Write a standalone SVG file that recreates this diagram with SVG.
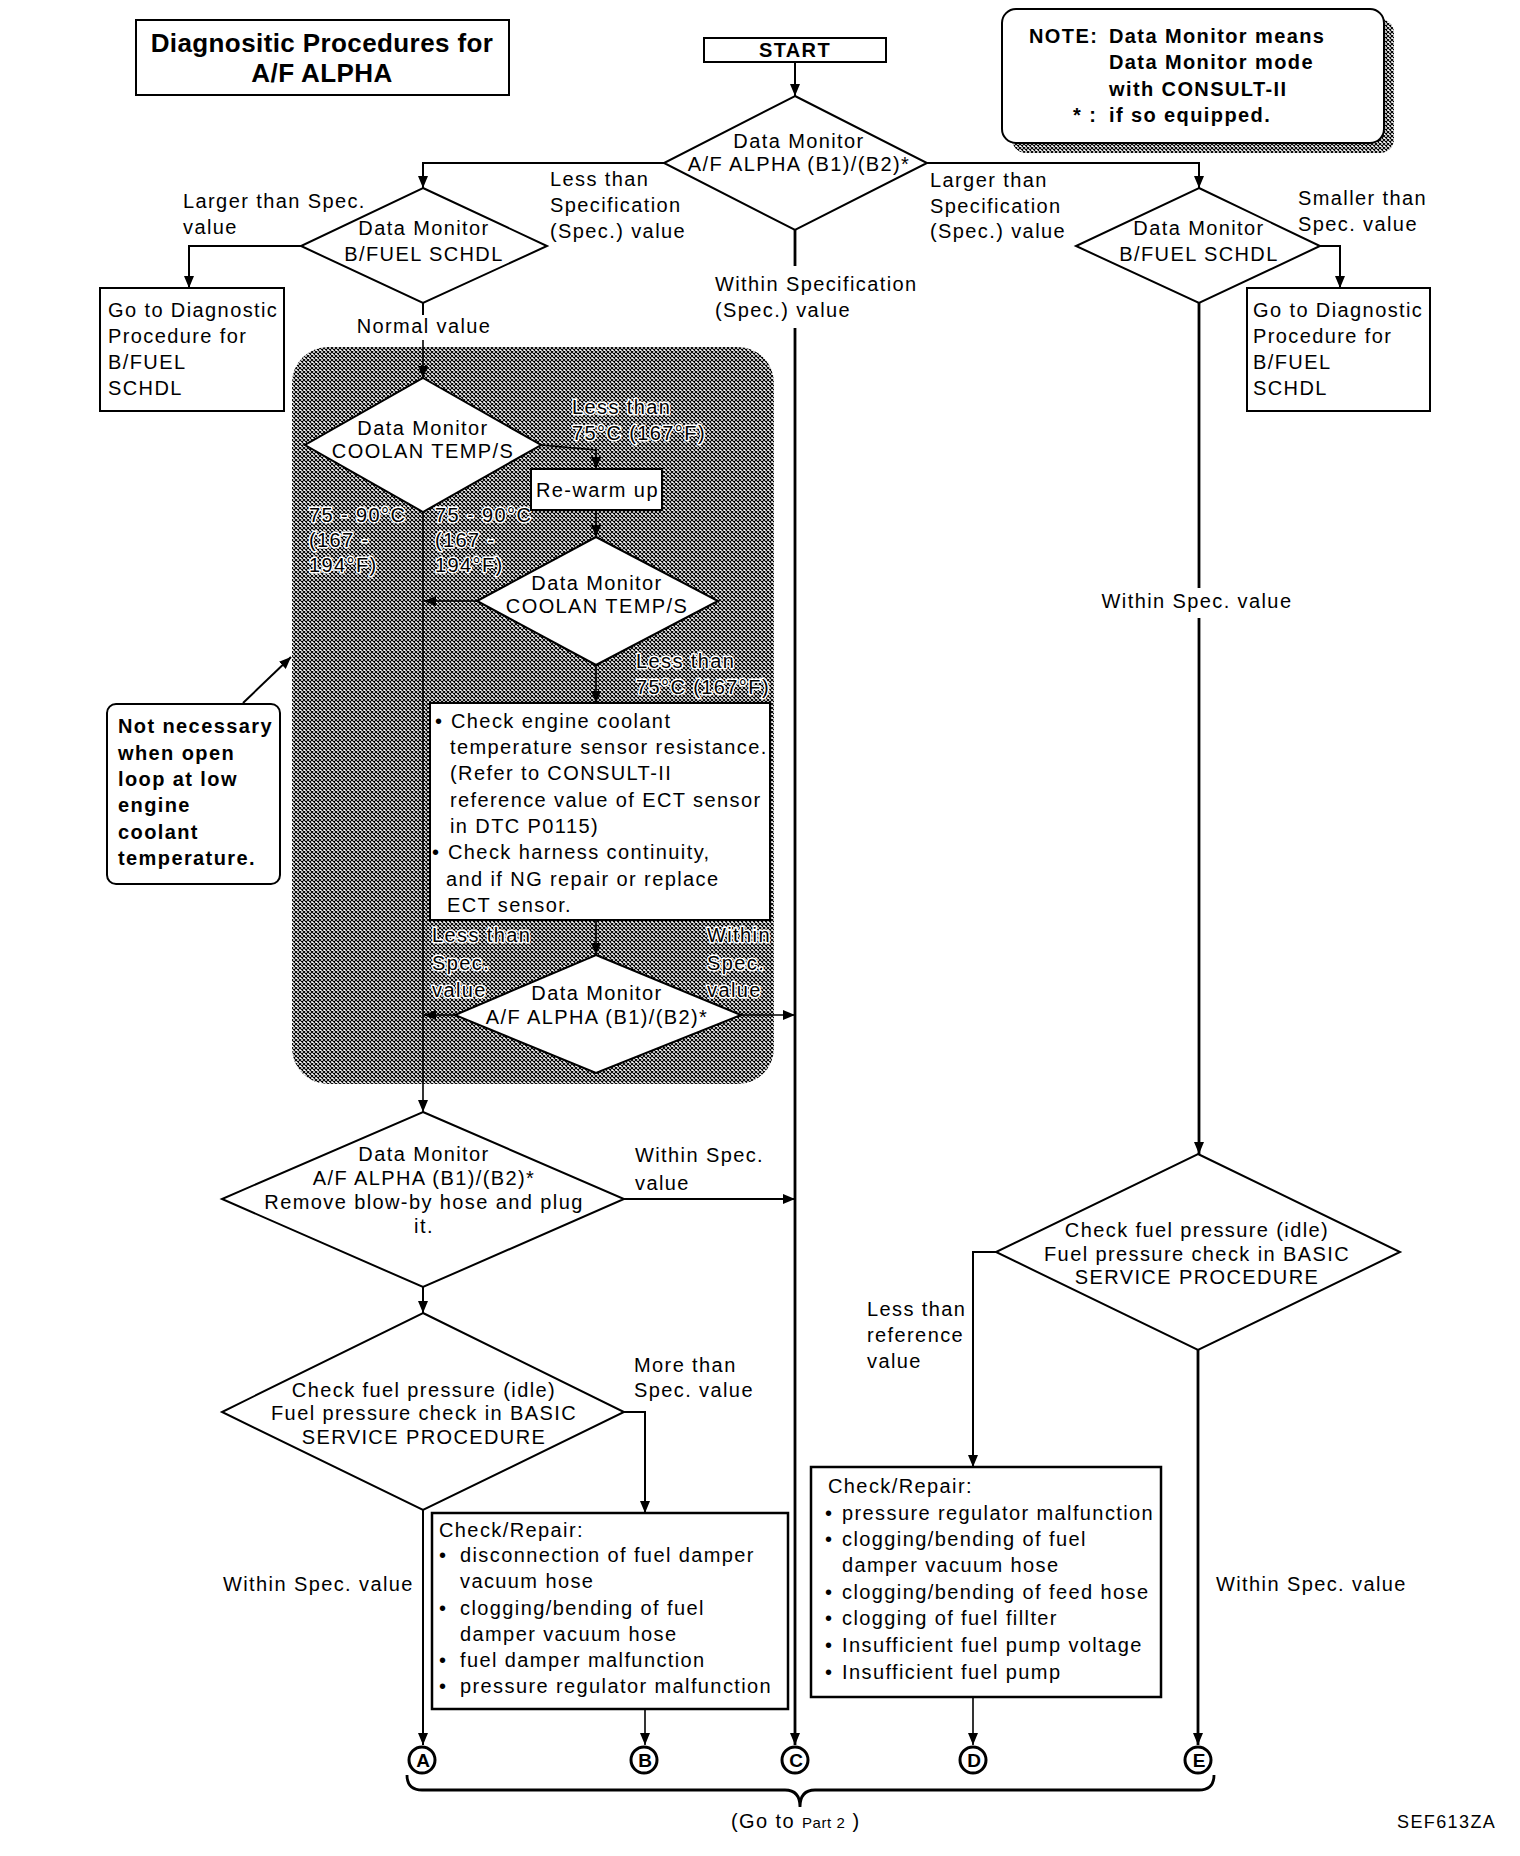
<svg xmlns="http://www.w3.org/2000/svg" width="1520" height="1856" viewBox="0 0 1520 1856">
<defs>
<style>
.t{font-family:"Liberation Sans",Arial,Helvetica,sans-serif;font-size:20px;letter-spacing:1.4px;fill:#000}
.b{font-weight:bold}
.m{text-anchor:middle}
.h{stroke:#fff;stroke-width:3px;paint-order:stroke;stroke-linejoin:round}
.ln{fill:none;stroke:#000;stroke-width:2}
.thin{fill:none;stroke:#000;stroke-width:1.6}
.thick{fill:none;stroke:#000;stroke-width:2.8}
.box{fill:#fff;stroke:#000;stroke-width:2}
.dia{fill:#fff;stroke:#000;stroke-width:2}
.cir{fill:#fff;stroke:#000;stroke-width:3}
</style>
<pattern id="hatch" width="4" height="4" patternUnits="userSpaceOnUse">
<rect width="4" height="4" fill="#fff"/>
<path d="M0,0 L4,4 M4,0 L0,4" stroke="#000" stroke-width="1.1"/>
</pattern>
<marker id="ah" viewBox="0 0 12 10" refX="12" refY="5" markerWidth="12" markerHeight="10" markerUnits="userSpaceOnUse" orient="auto">
<path d="M0,0 L12,5 L0,10 Z" fill="#000"/>
</marker>
</defs>
<rect width="1520" height="1856" fill="#fff"/>

<g id="shaded-region">
<rect x="292" y="347" width="482" height="737" rx="36" fill="url(#hatch)"/>
</g>

<g id="connectors">
<path class="ln" d="M795,62 V96" marker-end="url(#ah)"/>
<path class="ln" d="M664,163 H423 V188" marker-end="url(#ah)"/>
<path class="ln" d="M927,163 H1199 V188" marker-end="url(#ah)"/>
<path class="thick" d="M795,230 V266"/>
<path class="thick" d="M795,328 V1745" marker-end="url(#ah)"/>
<path class="ln" d="M301,246 H189 V288" marker-end="url(#ah)"/>
<path class="ln" d="M423,303 V315"/>
<path class="thin" d="M423,340 V378" marker-end="url(#ah)"/>
<path class="ln" d="M1320,246 H1340 V288" marker-end="url(#ah)"/>
<path class="thick" d="M1199,303 V588"/>
<path class="thick" d="M1199,618 V1154" marker-end="url(#ah)"/>
<path class="thin" d="M541,445 L596,450 V469" marker-end="url(#ah)"/>
<path class="thin" d="M596,510 V537" marker-end="url(#ah)"/>
<path class="thin" d="M423,512 V1112" marker-end="url(#ah)"/>
<path class="thin" d="M477,601 H424" marker-end="url(#ah)"/>
<path class="thin" d="M596,665 V703" marker-end="url(#ah)"/>
<path class="thin" d="M596,920 V955" marker-end="url(#ah)"/>
<path class="thin" d="M455,1015 H424" marker-end="url(#ah)"/>
<path class="thin" d="M741,1015 H795" marker-end="url(#ah)"/>
<path class="ln" d="M624,1199 H795" marker-end="url(#ah)"/>
<path class="ln" d="M423,1287 V1313" marker-end="url(#ah)"/>
<path class="ln" d="M624,1412 H645 V1513" marker-end="url(#ah)"/>
<path class="ln" d="M423,1510 V1745" marker-end="url(#ah)"/>
<path class="thin" d="M645,1709 V1745" marker-end="url(#ah)"/>
<path class="ln" d="M996,1252 H973 V1467" marker-end="url(#ah)"/>
<path class="thin" d="M973,1697 V1745" marker-end="url(#ah)"/>
<path class="thick" d="M1198,1350 V1745" marker-end="url(#ah)"/>
<path class="ln" d="M243,703 L291,657" marker-end="url(#ah)"/>
<path class="thick" d="M407,1775 Q407,1790 422,1790 L785,1790 Q800,1790 800,1807 Q800,1790 815,1790 L1199,1790 Q1214,1790 1214,1775"/>
</g>

<g id="title">
<rect class="box" x="136" y="20" width="373" height="75"/>
<text class="t b m" x="322" y="52" style="font-size:26px;letter-spacing:0.4px">Diagnositic Procedures for</text>
<text class="t b m" x="322" y="82" style="font-size:26px;letter-spacing:0.4px">A/F ALPHA</text>
</g>

<g id="start">
<rect class="box" x="704" y="38" width="182" height="24"/>
<text class="t b m" x="795" y="57">START</text>
</g>

<g id="note">
<rect x="1012" y="19" width="382" height="134" rx="14" fill="url(#hatch)"/>
<rect class="box" x="1002" y="9" width="382" height="134" rx="14"/>
<text class="t b" x="1029" y="43">NOTE:</text>
<text class="t b" x="1109" y="43">Data Monitor means</text>
<text class="t b" x="1109" y="69">Data Monitor mode</text>
<text class="t b" x="1109" y="96">with CONSULT-II</text>
<text class="t b" x="1073" y="122">* :</text>
<text class="t b" x="1109" y="122">if so equipped.</text>
</g>

<g id="d-main">
<polygon class="dia" points="795,96 927,163 795,230 664,163"/>
<text class="t m" x="799" y="148">Data Monitor</text>
<text class="t m" x="799" y="171">A/F ALPHA (B1)/(B2)*</text>
</g>

<g id="d-left-bfuel">
<polygon class="dia" points="423,188 547,246 423,303 301,246"/>
<text class="t m" x="424" y="235">Data Monitor</text>
<text class="t m" x="424" y="261">B/FUEL SCHDL</text>
</g>

<g id="d-right-bfuel">
<polygon class="dia" points="1199,188 1320,246 1199,303 1076,246"/>
<text class="t m" x="1199" y="235">Data Monitor</text>
<text class="t m" x="1199" y="261">B/FUEL SCHDL</text>
</g>

<g id="box-left-goto">
<rect class="box" x="100" y="288" width="184" height="123"/>
<text class="t" x="108" y="317">Go to Diagnostic</text>
<text class="t" x="108" y="343">Procedure for</text>
<text class="t" x="108" y="369">B/FUEL</text>
<text class="t" x="108" y="395">SCHDL</text>
</g>

<g id="box-right-goto">
<rect class="box" x="1247" y="288" width="183" height="123"/>
<text class="t" x="1253" y="317">Go to Diagnostic</text>
<text class="t" x="1253" y="343">Procedure for</text>
<text class="t" x="1253" y="369">B/FUEL</text>
<text class="t" x="1253" y="395">SCHDL</text>
</g>

<g id="labels">
<text class="t" x="550" y="186">Less than</text>
<text class="t" x="550" y="212">Specification</text>
<text class="t" x="550" y="238">(Spec.) value</text>
<text class="t" x="183" y="208">Larger than Spec.</text>
<text class="t" x="183" y="234">value</text>
<text class="t" x="930" y="187">Larger than</text>
<text class="t" x="930" y="213">Specification</text>
<text class="t" x="930" y="238">(Spec.) value</text>
<text class="t" x="1298" y="205">Smaller than</text>
<text class="t" x="1298" y="231">Spec. value</text>
<text class="t" x="715" y="291">Within Specification</text>
<text class="t" x="715" y="317">(Spec.) value</text>
<text class="t m" x="424" y="333">Normal value</text>
<text class="t m" x="1197" y="608">Within Spec. value</text>
<text class="t h" x="572" y="414">Less than</text>
<text class="t h" x="572" y="440">75°C (167°F)</text>
<text class="t h" x="309" y="522">75 - 90°C</text>
<text class="t h" x="309" y="547">(167 -</text>
<text class="t h" x="309" y="572">194°F)</text>
<text class="t h" x="435" y="522">75 - 90°C</text>
<text class="t h" x="435" y="547">(167 -</text>
<text class="t h" x="435" y="572">194°F)</text>
<text class="t h" x="636" y="668">Less than</text>
<text class="t h" x="636" y="694">75°C (167°F)</text>
<text class="t h" x="432" y="942">Less than</text>
<text class="t h" x="432" y="970">Spec.</text>
<text class="t h" x="432" y="997">value</text>
<text class="t h" x="707" y="942">Within</text>
<text class="t h" x="707" y="970">Spec.</text>
<text class="t h" x="707" y="997">value</text>
<text class="t" x="635" y="1162">Within Spec.</text>
<text class="t" x="635" y="1190">value</text>
<text class="t" x="634" y="1372">More than</text>
<text class="t" x="634" y="1397">Spec. value</text>
<text class="t" x="867" y="1316">Less than</text>
<text class="t" x="867" y="1342">reference</text>
<text class="t" x="867" y="1368">value</text>
<text class="t" x="223" y="1591">Within Spec. value</text>
<text class="t" x="1216" y="1591">Within Spec. value</text>
</g>

<g id="d-coolant-1">
<polygon class="dia" points="423,378 541,445 423,512 305,445"/>
<text class="t m" x="423" y="435">Data Monitor</text>
<text class="t m" x="423" y="458">COOLAN TEMP/S</text>
</g>

<g id="box-rewarm">
<rect class="box" x="531" y="469" width="131" height="41"/>
<text class="t" x="536" y="497">Re-warm up</text>
</g>

<g id="d-coolant-2">
<polygon class="dia" points="596,537 718,601 596,665 477,601"/>
<text class="t m" x="597" y="590">Data Monitor</text>
<text class="t m" x="597" y="613">COOLAN TEMP/S</text>
</g>

<g id="box-ect">
<rect class="box" x="430" y="703" width="340" height="217"/>
<text class="t" x="435" y="728">•</text>
<text class="t" x="451" y="728">Check engine coolant</text>
<text class="t" x="450" y="754">temperature sensor resistance.</text>
<text class="t" x="450" y="780">(Refer to CONSULT-II</text>
<text class="t" x="450" y="807">reference value of ECT sensor</text>
<text class="t" x="450" y="833">in DTC P0115)</text>
<text class="t" x="432" y="859">•</text>
<text class="t" x="448" y="859">Check harness continuity,</text>
<text class="t" x="446" y="886">and if NG repair or replace</text>
<text class="t" x="447" y="912">ECT sensor.</text>
</g>

<g id="d-alpha-inner">
<polygon class="dia" points="596,955 741,1015 596,1073 455,1015"/>
<text class="t m" x="597" y="1000">Data Monitor</text>
<text class="t m" x="597" y="1024">A/F ALPHA (B1)/(B2)*</text>
</g>

<g id="note-open-loop">
<rect class="box" x="107" y="704" width="173" height="180" rx="9"/>
<text class="t b" x="118" y="733">Not necessary</text>
<text class="t b" x="118" y="760">when open</text>
<text class="t b" x="118" y="786">loop at low</text>
<text class="t b" x="118" y="812">engine</text>
<text class="t b" x="118" y="839">coolant</text>
<text class="t b" x="118" y="865">temperature.</text>
</g>

<g id="d-alpha-blowby">
<polygon class="dia" points="423,1112 624,1199 423,1287 222,1199"/>
<text class="t m" x="424" y="1161">Data Monitor</text>
<text class="t m" x="424" y="1185">A/F ALPHA (B1)/(B2)*</text>
<text class="t m" x="424" y="1209">Remove blow-by hose and plug</text>
<text class="t m" x="424" y="1233">it.</text>
</g>

<g id="d-fuel-left">
<polygon class="dia" points="423,1313 624,1412 423,1510 222,1412"/>
<text class="t m" x="424" y="1397">Check fuel pressure (idle)</text>
<text class="t m" x="424" y="1420">Fuel pressure check in BASIC</text>
<text class="t m" x="424" y="1444">SERVICE PROCEDURE</text>
</g>

<g id="d-fuel-right">
<polygon class="dia" points="1198,1154 1400,1252 1198,1350 996,1252"/>
<text class="t m" x="1197" y="1237">Check fuel pressure (idle)</text>
<text class="t m" x="1197" y="1261">Fuel pressure check in BASIC</text>
<text class="t m" x="1197" y="1284">SERVICE PROCEDURE</text>
</g>

<g id="box-repair-b">
<rect class="box" x="432" y="1513" width="356" height="196" style="stroke-width:2.5"/>
<text class="t" x="439" y="1537">Check/Repair:</text>
<text class="t" x="439" y="1562">•</text>
<text class="t" x="460" y="1562">disconnection of fuel damper</text>
<text class="t" x="460" y="1588">vacuum hose</text>
<text class="t" x="439" y="1615">•</text>
<text class="t" x="460" y="1615">clogging/bending of fuel</text>
<text class="t" x="460" y="1641">damper vacuum hose</text>
<text class="t" x="439" y="1667">•</text>
<text class="t" x="460" y="1667">fuel damper malfunction</text>
<text class="t" x="439" y="1693">•</text>
<text class="t" x="460" y="1693">pressure regulator malfunction</text>
</g>

<g id="box-repair-d">
<rect class="box" x="811" y="1467" width="350" height="230" style="stroke-width:2.5"/>
<text class="t" x="828" y="1493">Check/Repair:</text>
<text class="t" x="825" y="1520">•</text>
<text class="t" x="842" y="1520">pressure regulator malfunction</text>
<text class="t" x="825" y="1546">•</text>
<text class="t" x="842" y="1546">clogging/bending of fuel</text>
<text class="t" x="842" y="1572">damper vacuum hose</text>
<text class="t" x="825" y="1599">•</text>
<text class="t" x="842" y="1599">clogging/bending of feed hose</text>
<text class="t" x="825" y="1625">•</text>
<text class="t" x="842" y="1625">clogging of fuel fillter</text>
<text class="t" x="825" y="1652">•</text>
<text class="t" x="842" y="1652">Insufficient fuel pump voltage</text>
<text class="t" x="825" y="1679">•</text>
<text class="t" x="842" y="1679">Insufficient fuel pump</text>
</g>

<g id="conn-A">
<circle class="cir" cx="422" cy="1760" r="13"/>
<text class="t b m" x="423" y="1767" style="font-size:19px;letter-spacing:0">A</text>
</g>
<g id="conn-B">
<circle class="cir" cx="644" cy="1760" r="13"/>
<text class="t b m" x="645" y="1767" style="font-size:19px;letter-spacing:0">B</text>
</g>
<g id="conn-C">
<circle class="cir" cx="795" cy="1760" r="13"/>
<text class="t b m" x="796" y="1767" style="font-size:19px;letter-spacing:0">C</text>
</g>
<g id="conn-D">
<circle class="cir" cx="973" cy="1760" r="13"/>
<text class="t b m" x="974" y="1767" style="font-size:19px;letter-spacing:0">D</text>
</g>
<g id="conn-E">
<circle class="cir" cx="1198" cy="1760" r="13"/>
<text class="t b m" x="1199" y="1767" style="font-size:19px;letter-spacing:0">E</text>
</g>

<g id="footer">
<text class="t" x="731" y="1828">(Go to <tspan style="font-size:15px;letter-spacing:0.6px">Part 2</tspan> )</text>
<text class="t" x="1397" y="1828" style="font-size:18px">SEF613ZA</text>
</g>
</svg>
